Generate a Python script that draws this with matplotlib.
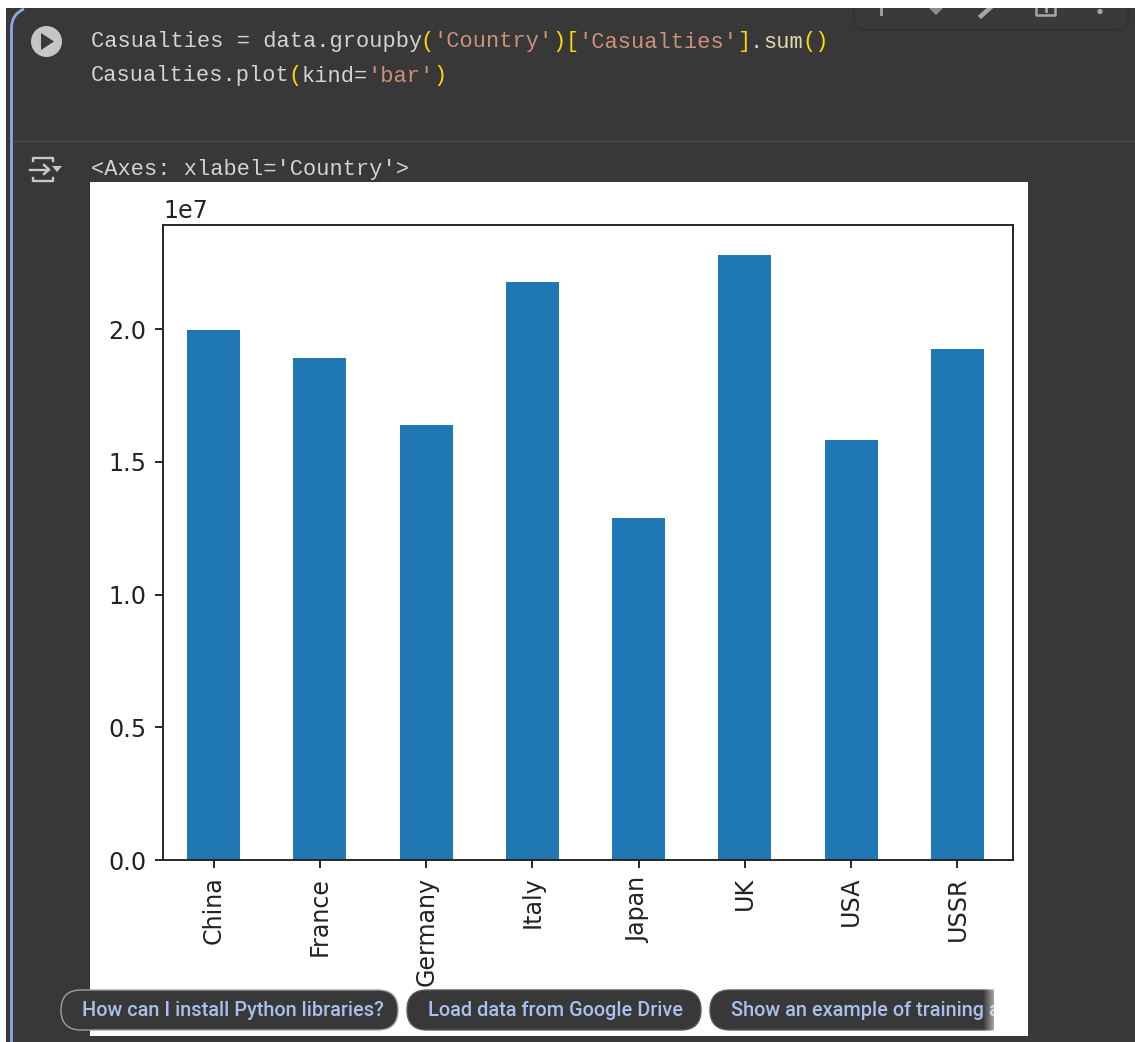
import matplotlib
matplotlib.use("Agg")
import matplotlib.pyplot as plt
import numpy as np
from matplotlib.patches import Circle, FancyBboxPatch, PathPatch, Polygon, Rectangle
from matplotlib.path import Path

# Chart data
countries = ["China", "France", "Germany", "Italy", "Japan", "UK", "USA", "USSR"]
casualties = [1.996e7, 1.892e7, 1.638e7, 2.177e7, 1.288e7, 2.279e7, 1.582e7, 1.925e7]

# Notebook text
PALE, STR, BRK, FUNC = "#d4d4d4", "#ce9178", "#ffd700", "#dcdcaa"
line_1 = [("Casualties = data.groupby", PALE), ("(", BRK), ("'Country'", STR), (")", BRK),
          ("[", BRK), ("'Casualties'", STR), ("]", BRK), (".", PALE), ("sum", FUNC), ("()", BRK)]
line_2 = [("Casualties.plot", PALE), ("(", BRK), ("kind=", PALE), ("'bar'", STR), (")", BRK)]
output_text = "<Axes: xlabel='Country'>"
chips = ["How can I install Python libraries?", "Load data from Google Drive",
         "Show an example of training a"]

W, H = 1135, 1042
BG = "#383838"
fig = plt.figure(figsize=(W / 100, H / 100), dpi=100, facecolor="white")

# ---------- page layer (pixel coordinates) ----------
ui = fig.add_axes([0, 0, 1, 1], zorder=0)
ui.set_xlim(0, W); ui.set_ylim(H, 0); ui.axis("off")
ui.add_patch(Rectangle((6, 8), W - 6, H - 8, fc=BG, ec="none"))

# cell edge with rounded corner
edge = Path([(11.5, H), (11.5, 28), (11.5, 14), (24, 9)],
            [Path.MOVETO, Path.LINETO, Path.CURVE3, Path.CURVE3])
ui.add_patch(PathPatch(edge, fc="none", ec="#86a9e6", lw=2))
ui.plot([13, W], [140.5, 140.5], color="#4c4c4c", lw=1)

# run button
ui.add_patch(Circle((46.5, 41.5), 15.5, fc="#c6c6c6", ec="none"))
ui.add_patch(Polygon([(41, 33), (41, 50), (54, 41.5)], fc=BG, ec="none"))

# output icon
ic = "#c8c8c8"
ui.plot([33, 33, 53, 53], [161, 158, 158, 161], color=ic, lw=1.7)
ui.plot([33, 33, 53, 53], [178, 181, 181, 178], color=ic, lw=1.7)
ui.plot([30, 49], [169.5, 169.5], color=ic, lw=1.7)
ui.plot([44, 49, 44], [165, 169.5, 174], color=ic, lw=1.7)
ui.add_patch(Polygon([(52, 166), (62, 166), (57, 172)], fc=ic, ec="none"))

# floating toolbar
ui.add_patch(FancyBboxPatch((854, -30), 274, 60, boxstyle="round,pad=0,rounding_size=12",
                            fc="#3a3a3a", ec="#323232", lw=1.5, zorder=2))
tc = "#a6a6a6"
ui.plot([881, 881], [8, 14], color=tc, lw=2, zorder=3)
ui.add_patch(Polygon([(929, 8), (943, 8), (936, 15)], fc="#8c8c8c", ec="none", zorder=3))
ui.plot([981, 990], [16, 8], color=tc, lw=3.2, zorder=3)
ui.plot([1036, 1036, 1055, 1055], [8, 15, 15, 8], color=tc, lw=1.8, zorder=3)
ui.plot([1046, 1046], [8, 11], color=tc, lw=2, zorder=3)
ui.add_patch(Circle((1100, 11.5), 2.6, fc=tc, ec="none", zorder=3))
ui.add_patch(Rectangle((0, 0), W, 8, fc="white", ec="none", zorder=4))

# code text (monospaced advance of 13.18 px)
CW = 13.18
mono = dict(family="Liberation Mono", fontsize=15.8, va="center", ha="left")
def code(parts, x, y):
    for s, c in parts:
        ui.text(x, y, s, color=c, **mono)
        x += CW * len(s)
code(line_1, 91, 42)
code(line_2, 91, 76)
ui.text(91, 170, output_text, color=PALE, **mono)

# white output panel
ui.add_patch(Rectangle((90, 182), 937.5, 854, fc="white", ec="none", zorder=2))

# ---------- the chart ----------
ax = fig.add_axes([163 / W, 1 - 860 / H, 850 / W, 635 / H], zorder=1, facecolor="white")
x = np.arange(len(countries))
ax.bar(x, casualties, width=0.5, color="#1f77b4")
ax.set_xlim(-0.477, len(countries) - 0.477)
ax.set_ylim(0, max(casualties) * 1.05)
ax.set_xticks(x, countries, rotation=90)
ax.set_yticks([0, 0.5e7, 1e7, 1.5e7, 2e7])
ax.ticklabel_format(axis="y", style="sci", scilimits=(0, 0))
ax.tick_params(labelsize=17.1, length=6, width=1.37, pad=6, color="#222222", labelcolor="#222222")
ax.yaxis.OFFSETTEXTPAD = 5.2
ax.yaxis.get_offset_text().set_fontsize(17.1)
ax.yaxis.get_offset_text().set_color("#222222")
for s in ax.spines.values():
    s.set_linewidth(1.37)
    s.set_color("#222222")

# ---------- suggestion chips ----------
top = fig.add_axes([0, 0, 1, 1], zorder=2)
top.set_xlim(0, W); top.set_ylim(H, 0); top.axis("off"); top.patch.set_alpha(0)
boxes = [(61, 398, "#a0a0a0"), (407, 701, "#5a5a5a"), (710, 1012, "#5a5a5a")]
for (x0, x1, ec), label in zip(boxes, chips):
    top.add_patch(FancyBboxPatch((x0, 990), x1 - x0, 40,
                                 boxstyle="round,pad=0,rounding_size=20", fc=BG, ec=ec, lw=1))
    top.text(x0 + 21, 1010, label, family="Roboto", fontsize=14.35, fontweight="medium",
             color="#a8c0ee", va="center", ha="left")

# fade-out at the right end of the chip row
fade = np.ones((1, 40, 4))
fade[0, :, 3] = np.linspace(0, 0.55, 40)
top.imshow(fade, extent=(983, 994, 1031, 989), aspect="auto", zorder=5)
top.add_patch(Rectangle((994, 988), 20, 44, fc="white", ec="none", zorder=6))
top.set_xlim(0, W); top.set_ylim(H, 0)

fig.savefig("out.png", dpi=100, facecolor="white")
